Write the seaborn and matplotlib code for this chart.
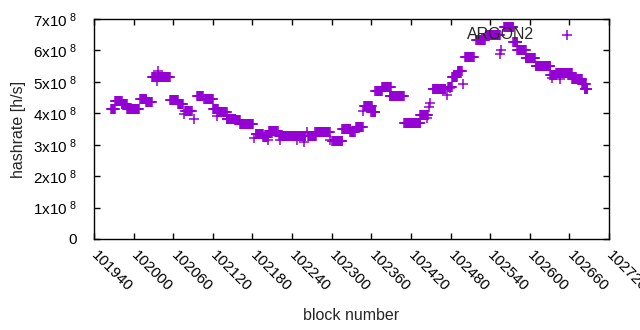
import numpy as np
import pandas as pd
import matplotlib
matplotlib.use("Agg")
import matplotlib.pyplot as plt
import seaborn as sns

# plateaus: first block, last block, hashrate (x1e8 h/s)
seg_start = [101966, 101972, 101982, 101990, 102010, 102019, 102028, 102037,
             102055, 102067, 102078, 102096, 102107, 102120, 102128, 102141,
             102154, 102161, 102185, 102196, 102205, 102220, 102264, 102275,
             102301, 102316, 102328, 102337, 102349, 102360, 102366, 102376,
             102388, 102410, 102434, 102453, 102476, 102482, 102491, 102502,
             102519, 102534, 102561, 102575, 102581, 102594, 102609, 102631,
             102640, 102664, 102679, 102683]
seg_end = [101972, 101982, 101990, 102008, 102019, 102028, 102035, 102055,
           102067, 102075, 102088, 102105, 102120, 102128, 102141, 102154,
           102161, 102181, 102196, 102203, 102218, 102260, 102276, 102297,
           102316, 102328, 102335, 102347, 102361, 102366, 102376, 102390,
           102409, 102434, 102446, 102472, 102482, 102490, 102497, 102515,
           102532, 102555, 102575, 102581, 102594, 102608, 102631, 102640,
           102664, 102679, 102685, 102687]
seg_rate = [4.14, 4.39, 4.28, 4.15, 4.44, 4.37, 5.16, 5.15,
            4.42, 4.28, 4.08, 4.54, 4.45, 4.15, 4.05, 3.83,
            3.78, 3.65, 3.35, 3.25, 3.44, 3.27, 3.28, 3.40,
            3.13, 3.50, 3.41, 3.56, 4.22, 4.04, 4.71, 4.84,
            4.54, 3.68, 3.96, 4.76, 4.85, 5.15, 5.33, 5.79,
            6.32, 6.48, 6.74, 6.27, 6.00, 5.75, 5.50, 5.22,
            5.28, 5.08, 4.93, 4.77]

# single blocks off the plateaus
pt_block = [102037, 102035, 102077, 102092, 102127, 102183, 102204, 102221,
            102247, 102258, 102262, 102297, 102348, 102444, 102449, 102447,
            102474, 102479, 102499, 102555, 102557, 102633, 102646]
pt_rate = [5.35, 5.03, 3.98, 3.82, 3.92, 3.20, 3.15, 3.15,
           3.15, 3.10, 3.41, 3.15, 4.07, 3.85, 4.32, 4.21,
           4.58, 4.80, 4.92, 5.89, 6.01, 5.11, 5.08]

x_ticks = list(range(101940, 102721, 60))
y_ticks = [0, 1, 2, 3, 4, 5, 6, 7]
y_labels = ["0"] + [f"{v}x10$^{{\\ 8}}$" for v in y_ticks[1:]]

blocks, rates = [], []
for s, e, r in zip(seg_start, seg_end, seg_rate):
    b = np.arange(s, e + 1)
    blocks.extend(b)
    rates.extend([r * 1e8] * len(b))
blocks.extend(pt_block)
rates.extend([r * 1e8 for r in pt_rate])
df = pd.DataFrame({"block": blocks, "hashrate": rates})

sns.set_style("ticks")
plt.rcParams["font.family"] = ["Liberation Sans", "DejaVu Sans"]
plt.rcParams["mathtext.fontset"] = "custom"
plt.rcParams["mathtext.rm"] = "Liberation Sans"
plt.rcParams["mathtext.default"] = "regular"

fig = plt.figure(figsize=(6.4, 3.3), dpi=100)
ax = fig.add_axes([94 / 640, 1 - 239 / 330, 515 / 640, 220 / 330])
sns.scatterplot(data=df, x="block", y="hashrate", marker="+", s=45,
                color="#9400d3", linewidth=1.1, label="ARGON2", ax=ax)

ax.set_xlim(101940, 102720)
ax.set_ylim(0, 7e8)
ax.set_xticks(x_ticks)
ax.set_xticklabels([str(t) for t in x_ticks], rotation=-45, ha="left",
                   va="center", rotation_mode="anchor", fontsize=11)
ax.set_yticks([v * 1e8 for v in y_ticks])
ax.set_yticklabels(y_labels, fontsize=11)
ax.tick_params(direction="in", length=4, width=1, top=True, right=True,
               colors="black")
ax.tick_params(axis="y", pad=12)
ax.tick_params(axis="x", pad=10)
for sp in ax.spines.values():
    sp.set_linewidth(1)
    sp.set_color("black")
ax.set_xlabel("block number", fontsize=11.5, labelpad=10)
ax.set_ylabel("hashrate [h/s]", fontsize=11.5, labelpad=5)

leg = ax.legend(loc="upper right", bbox_to_anchor=(0.969, 1.005),
                frameon=False, markerfirst=False, fontsize=11.5,
                handletextpad=1.1, borderaxespad=0.2)

fig.savefig("out.png", dpi=100)
